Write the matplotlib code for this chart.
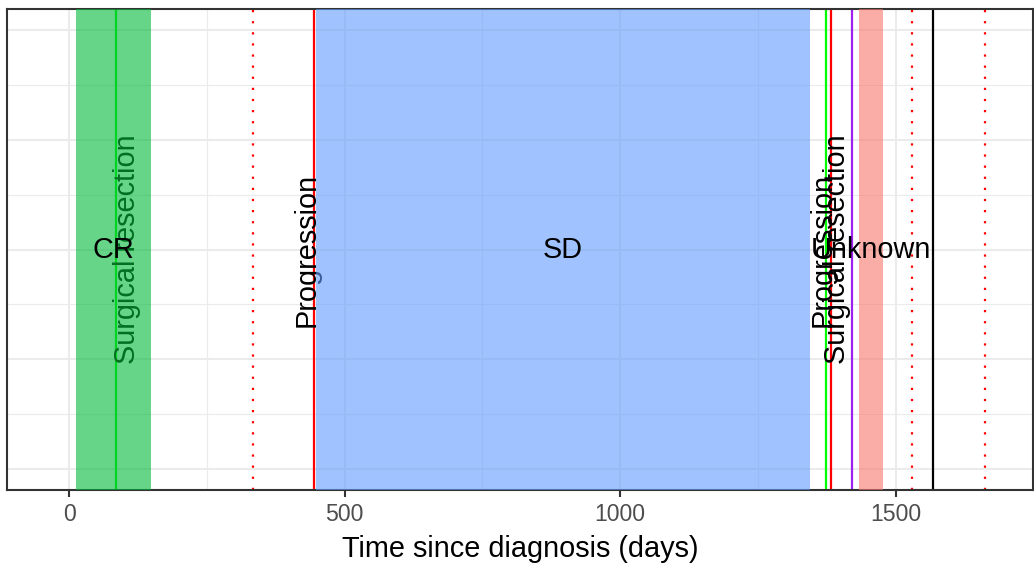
import matplotlib
matplotlib.use("Agg")
import matplotlib.pyplot as plt

plt.rcParams['font.family'] = ['Liberation Sans', 'DejaVu Sans']

# treatment response phases
phase_names = ["CR", "SD", "Unknown"]
phase_start = [13, 448, 1433]
phase_end = [149, 1344, 1477]
phase_colors = ["#00BA38", "#619CFF", "#F8766D"]

# labelled events
event_names = ["Surgical resection", "Progression", "Surgical resection", "Progression"]
event_days = [85, 445, 1373, 1382]
event_colors = ["#00FF00", "#FF0000", "#00FF00", "#FF0000"]

# unlabelled solid lines
other_days = [1420, 1567]
other_colors = ["#A020F0", "#000000"]

# dotted lines (scans)
dotted_days = [334, 1529, 1662]

fig = plt.figure(figsize=(10.34, 5.63), dpi=100)
ax = fig.add_axes([7 / 1034, (563 - 490) / 563, 1026 / 1034, (490 - 9) / 563])

ax.set_xlim(-112.5, 1749)
ax.set_ylim(-0.19, 4.19)
ax.set_xticks([0, 500, 1000, 1500])
ax.set_xticks([250, 750, 1250], minor=True)
ax.set_yticks([0, 1, 2, 3, 4])
ax.set_yticks([0.5, 1.5, 2.5, 3.5], minor=True)
ax.grid(which='major', color='#EBEBEB', lw=1.5, zorder=0)
ax.grid(which='minor', color='#EBEBEB', lw=0.8, zorder=0)
ax.set_axisbelow(True)
ax.tick_params(axis='y', which='both', left=False, labelleft=False)
ax.tick_params(axis='x', which='minor', bottom=False)
ax.tick_params(axis='x', which='major', length=5, width=1.5, color='#333333',
               labelcolor='#4D4D4D', labelsize=16.6, pad=4.5)
for s in ax.spines.values():
    s.set_color('#333333')
    s.set_linewidth(1.5)

for d in dotted_days:
    ax.axvline(d, color='red', lw=1.6, ls=(0, (1, 4)), zorder=2)
for d, c in zip(other_days, other_colors):
    ax.axvline(d, color=c, lw=1.6, zorder=2)
for d, c in zip(event_days, event_colors):
    ax.axvline(d, color=c, lw=1.6, zorder=2)

for name, d in zip(event_names, event_days):
    if name == "Progression":
        ax.annotate(name, (d, 2), xytext=(0, 0), textcoords='offset points',
                    rotation=90, rotation_mode='anchor', ha='center', va='baseline',
                    fontsize=20.8, color='black', zorder=3)
    else:
        ax.annotate(name, (d, 2), xytext=(-2, 0), textcoords='offset points',
                    rotation=90, rotation_mode='anchor', ha='center', va='top',
                    fontsize=20.8, color='black', zorder=3)

for s, e, c in zip(phase_start, phase_end, phase_colors):
    ax.axvspan(s, e, color=c, alpha=0.6, lw=0, zorder=4)

for name, s, e in zip(phase_names, phase_start, phase_end):
    ax.text((s + e) / 2, 2, name, ha='center', va='center', fontsize=20.8,
            color='black', zorder=5)

ax.set_xlabel("Time since diagnosis (days)", fontsize=20.8, labelpad=6)

fig.savefig("out.png", dpi=100)
